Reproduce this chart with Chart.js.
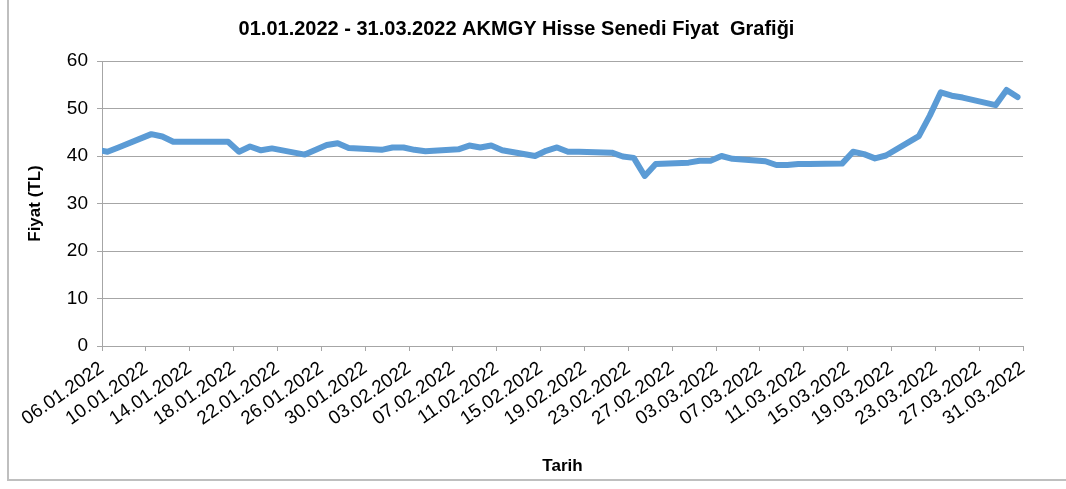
<!DOCTYPE html>
<html>
<head>
<meta charset="utf-8">
<script src="https://cdn.jsdelivr.net/npm/chart.js"></script>
<style>
  body { margin: 0; background: #fff; }
  #frame {
    position: absolute; left: 7px; top: -2px; width: 1062px; height: 481px;
    border-left: 2px solid #bfbfbf; border-bottom: 2px solid #bfbfbf;
  }
  #wrap { position: absolute; left: 0; top: 0; width: 1066px; height: 489px; }
</style>
</head>
<body>
<div id="frame"></div>
<div id="wrap"><canvas id="priceChart"></canvas></div>
<script>
const AXIS_START = '06.01.2022';
const AXIS_DAYS = 84;

const dates = [
  '05.01.2022', '06.01.2022', '07.01.2022', '10.01.2022', '11.01.2022', '12.01.2022',
  '13.01.2022', '14.01.2022', '17.01.2022', '18.01.2022', '19.01.2022', '20.01.2022',
  '21.01.2022', '24.01.2022', '25.01.2022', '26.01.2022', '27.01.2022', '28.01.2022',
  '31.01.2022', '01.02.2022', '02.02.2022', '03.02.2022', '04.02.2022', '07.02.2022',
  '08.02.2022', '09.02.2022', '10.02.2022', '11.02.2022', '14.02.2022', '15.02.2022',
  '16.02.2022', '17.02.2022', '18.02.2022', '21.02.2022', '22.02.2022', '23.02.2022',
  '24.02.2022', '25.02.2022', '28.02.2022', '01.03.2022', '02.03.2022', '03.03.2022',
  '04.03.2022', '07.03.2022', '08.03.2022', '09.03.2022', '10.03.2022', '11.03.2022',
  '14.03.2022', '15.03.2022', '16.03.2022', '17.03.2022', '18.03.2022', '21.03.2022',
  '22.03.2022', '23.03.2022', '24.03.2022', '25.03.2022', '28.03.2022', '29.03.2022',
  '30.03.2022',
];

const prices = [
  41.3, 40.9, 41.8, 44.6, 44.1, 43.0,
  43.0, 43.0, 43.0, 40.9, 42.0, 41.2,
  41.6, 40.3, 41.3, 42.3, 42.7, 41.7,
  41.3, 41.8, 41.8, 41.3, 41.0, 41.4,
  42.2, 41.8, 42.2, 41.2, 40.0, 41.1,
  41.8, 40.9, 40.9, 40.7, 39.9, 39.6,
  35.8, 38.3, 38.6, 39.0, 39.0, 40.0,
  39.4, 38.9, 38.1, 38.1, 38.3, 38.3,
  38.4, 40.9, 40.4, 39.5, 40.1, 44.2,
  48.5, 53.4, 52.7, 52.3, 50.7, 53.9,
  52.4,
];

const yTicks = [0, 10, 20, 30, 40, 50, 60];

function parseDate(s) {
  const [d, m, y] = s.split('.').map(Number);
  return Date.UTC(y, m - 1, d);
}

function dayOffset(s) {
  return Math.round((parseDate(s) - parseDate(AXIS_START)) / 86400000);
}

function dayLabel(offset) {
  const dt = new Date(parseDate(AXIS_START) + offset * 86400000);
  const dd = String(dt.getUTCDate()).padStart(2, '0');
  const mm = String(dt.getUTCMonth() + 1).padStart(2, '0');
  return `${dd}.${mm}.${dt.getUTCFullYear()}`;
}

// each day sits in the middle of its slot on the date axis
const points = dates.map((d, i) => ({ x: dayOffset(d) + 0.5, y: prices[i] }));

const FONT = "'Liberation Sans', Arial, sans-serif";
const GRID = '#a6a6a6';

new Chart(document.getElementById('priceChart'), {
  type: 'line',
  data: {
    datasets: [
      {
        label: 'AKMGY',
        data: points,
        borderColor: '#5b9bd5',
        borderWidth: 6,
        borderJoinStyle: 'round',
        borderCapStyle: 'round',
        pointRadius: 0,
        tension: 0,
        clip: 0,
      },
    ],
  },
  options: {
    responsive: true,
    maintainAspectRatio: false,
    animation: false,
    layout: { padding: { left: 10, right: 43, top: 0, bottom: 8 } },
    plugins: {
      legend: { display: false },
      tooltip: { enabled: false },
      title: {
        display: true,
        text: '01.01.2022 - 31.03.2022 AKMGY Hisse Senedi Fiyat  Grafiği',
        color: '#000',
        font: { family: FONT, size: 20, weight: 'bold' },
        padding: { top: 17, bottom: 20 },
      },
    },
    scales: {
      x: {
        type: 'linear',
        min: 0,
        max: AXIS_DAYS,
        afterFit: (s) => { s.height = 135; },
        afterBuildTicks: (s) => {
          s.ticks = [];
          for (let v = 0; v <= AXIS_DAYS; v += 4) s.ticks.push({ value: v });
        },
        ticks: {
          autoSkip: false,
          minRotation: 35,
          maxRotation: 35,
          padding: 6,
          color: '#000',
          font: { family: FONT, size: 19 },
          callback: (v) => dayLabel(v),
        },
        grid: { drawOnChartArea: false, tickLength: 5, color: GRID },
        border: { color: GRID },
        title: {
          display: true,
          text: 'Tarih',
          color: '#000',
          font: { family: FONT, size: 17, weight: 'bold' },
          padding: { top: 0, bottom: 4 },
        },
      },
      y: {
        min: 0,
        max: 60,
        afterFit: (s) => { s.width = 92; },
        afterBuildTicks: (s) => { s.ticks = yTicks.map((v) => ({ value: v })); },
        ticks: {
          padding: 9,
          color: '#000',
          font: { family: FONT, size: 19 },
        },
        grid: { color: GRID, tickLength: 5 },
        border: { color: GRID },
        title: {
          display: true,
          text: 'Fiyat (TL)',
          color: '#000',
          font: { family: FONT, size: 17, weight: 'bold' },
          padding: { top: 15, bottom: 0 },
        },
      },
    },
  },
});
</script>
</body>
</html>
